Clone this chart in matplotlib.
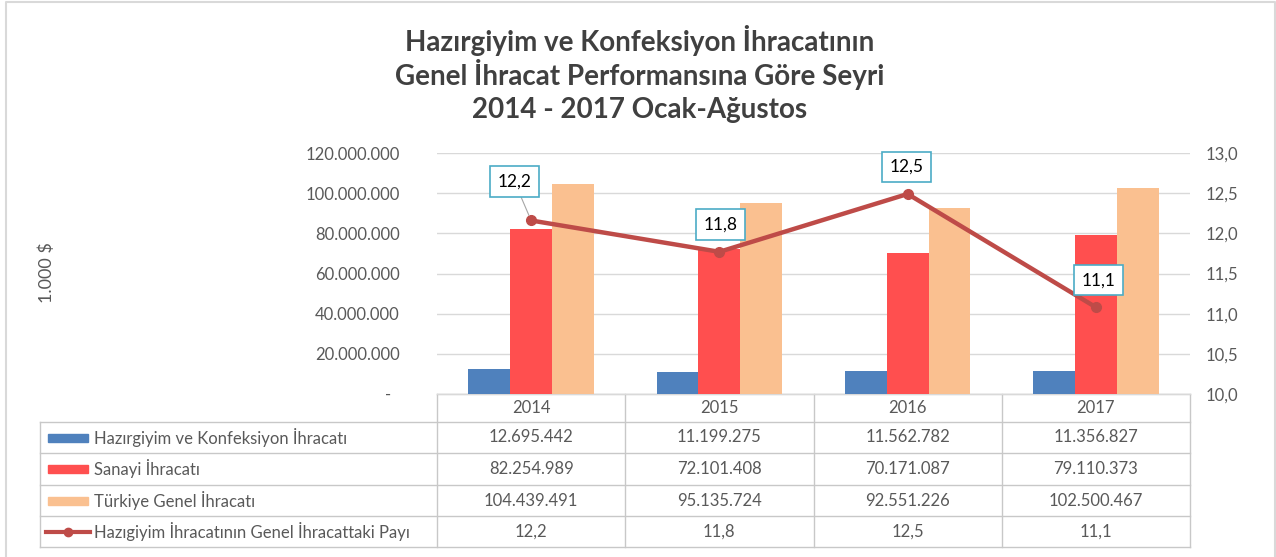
import matplotlib
matplotlib.use("Agg")
import matplotlib.pyplot as plt
from matplotlib.patches import Rectangle
import numpy as np

years = ["2014", "2015", "2016", "2017"]
hazirgiyim = [12695442, 11199275, 11562782, 11356827]
sanayi = [82254989, 72101408, 70171087, 79110373]
genel = [104439491, 95135724, 92551226, 102500467]
pay = [12.16, 11.77, 12.49, 11.08]

series_names = ["Hazırgiyim ve Konfeksiyon İhracatı", "Sanayi İhracatı",
                "Türkiye Genel İhracatı", "Hazıgiyim İhracatının Genel İhracattaki Payı"]
title_lines = ["Hazırgiyim ve Konfeksiyon İhracatının",
               "Genel İhracat Performansına Göre Seyri",
               "2014 - 2017 Ocak-Ağustos"]
y_label = "1.000 $"

C_BLUE = "#4F81BD"
C_RED = "#FF4F4F"
C_ORANGE = "#FAC090"
C_LINE = "#BE4B48"
C_GRID = "#D9D9D9"
C_TEXT = "#595959"
C_TITLE = "#404040"

FONT = ["Lato", "DejaVu Sans"]
plt.rcParams["font.family"] = FONT
FS = 12

W, H = 1276, 557
fig = plt.figure(figsize=(W / 100, H / 100), dpi=100)

ov = fig.add_axes([0, 0, 1, 1], zorder=0)
ov.set_xlim(0, W)
ov.set_ylim(H, 0)
ov.axis("off")

PL, PR, PT, PB = 437, 1190, 153, 394
ax = fig.add_axes([PL / W, 1 - PB / H, (PR - PL) / W, (PB - PT) / H], zorder=2)
ax.patch.set_alpha(0)
x = np.arange(len(years))
bw = 1 / 4.5
ax.bar(x - bw, hazirgiyim, bw, color=C_BLUE, zorder=3)
ax.bar(x, sanayi, bw, color=C_RED, zorder=3)
ax.bar(x + bw, genel, bw, color=C_ORANGE, zorder=3)
ax.set_xlim(-0.5, len(years) - 0.5)
ax.set_ylim(0, 120e6)
lt = np.arange(0, 120e6 + 1, 20e6)
ax.set_yticks(lt)
ax.set_yticklabels([("{:,.0f}".format(v).replace(",", ".") if v else "-  ") for v in lt],
                   fontsize=FS, color=C_TEXT)
ax.set_xticks([])
ax.grid(axis="y", color=C_GRID, lw=1, zorder=0)
ax.set_axisbelow(True)
for s in ["top", "right", "left"]:
    ax.spines[s].set_visible(False)
ax.spines["bottom"].set_color(C_GRID)
ax.tick_params(axis="y", length=0, pad=27)

ax2 = ax.twinx()
ax2.set_zorder(3)
ax2.plot(x, pay, color=C_LINE, lw=3.2, marker="o", ms=7, zorder=5, solid_capstyle="round")
ax2.set_ylim(10, 13)
rt = np.arange(10, 13.01, 0.5)
ax2.set_yticks(rt)
ax2.set_yticklabels(["{:.1f}".format(v).replace(".", ",") for v in rt], fontsize=FS, color=C_TEXT)
for s in ax2.spines.values():
    s.set_visible(False)
ax2.tick_params(axis="y", length=0, pad=11)

offsets = [(-12, 28), (1, 19.5), (-1, 19.5), (2, 19.5)]
for i, v in enumerate(pay):
    lab = "{:.1f}".format(v).replace(".", ",")
    arrow = dict(arrowstyle="-", color="#A6A6A6", lw=0.8, shrinkA=0, shrinkB=4) if i == 0 else None
    ax2.annotate(lab, (x[i], v), xytext=offsets[i], textcoords="offset points",
                 ha="center", va="center", fontsize=12.5, color="black",
                 bbox=dict(boxstyle="square,pad=0.42", fc="white", ec="#4BACC6", lw=1.2),
                 arrowprops=arrow, zorder=6)

for k, t in enumerate(title_lines):
    ov.text(640, 40 + 35 * k, t, ha="center", va="center", fontsize=20,
            fontweight="bold", color=C_TITLE)

ov.text(47, 273, y_label, rotation=90, ha="center", va="center", fontsize=13, color=C_TEXT)

ov.plot([6, 6, 1275, 1275], [H + 5, 1.5, 1.5, H + 5], color="#D9D9D9", lw=1.5, clip_on=False)

col_edges = [PL + (PR - PL) * i / len(years) for i in range(len(years) + 1)]
col_centers = [(col_edges[i] + col_edges[i + 1]) / 2 for i in range(len(years))]
row_edges = [PB, 422, 453, 485, 516, 547]
TL = 40
tc = "#C8C8C8"
ov.plot([PL, PR], [row_edges[0], row_edges[0]], color=tc, lw=1)
for r in row_edges[1:]:
    ov.plot([TL, PR], [r, r], color=tc, lw=1)
for cx in col_edges:
    ov.plot([cx, cx], [PB, row_edges[-1]], color=tc, lw=1)
ov.plot([TL, TL], [row_edges[1], row_edges[-1]], color=tc, lw=1)

def rc(i):
    return (row_edges[i] + row_edges[i + 1]) / 2

for j, yv in enumerate(years):
    ov.text(col_centers[j], rc(0), yv, ha="center", va="center", fontsize=FS, color=C_TEXT)

fmt = lambda v: "{:,}".format(v).replace(",", ".")
rows = [[fmt(v) for v in hazirgiyim], [fmt(v) for v in sanayi], [fmt(v) for v in genel],
        ["{:.1f}".format(v).replace(".", ",") for v in pay]]
colors = [C_BLUE, C_RED, C_ORANGE]
for i, name in enumerate(series_names):
    yc = rc(i + 1)
    if i < 3:
        ov.add_patch(Rectangle((48, yc - 4), 40, 8, color=colors[i]))
    else:
        ov.plot([46, 90], [yc, yc], color=C_LINE, lw=3)
        ov.plot([68], [yc], marker="o", color=C_LINE, ms=6)
    ov.text(94, yc, name, ha="left", va="center", fontsize=FS, color=C_TEXT)
    for j in range(len(years)):
        ov.text(col_centers[j], yc, rows[i][j], ha="center", va="center", fontsize=FS, color=C_TEXT)

fig.savefig("out.png", dpi=100)
